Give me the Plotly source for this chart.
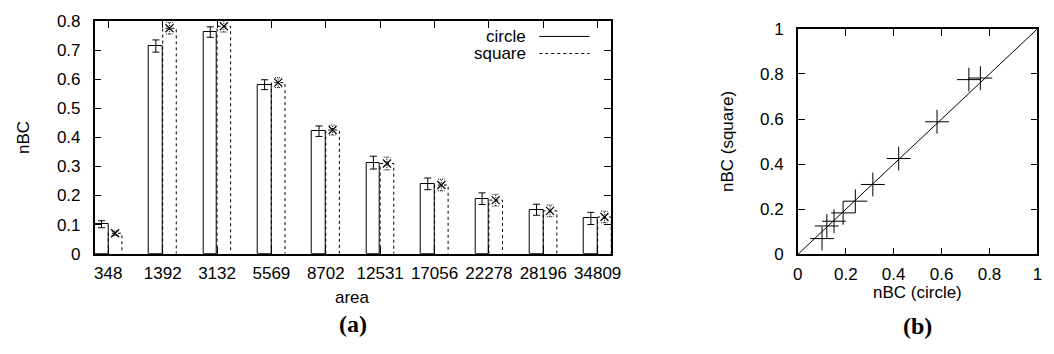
import plotly.graph_objects as go

# ---------------- data ----------------
areas = ["348", "1392", "3132", "5569", "8702", "12531", "17056", "22278", "28196", "34809"]
circle = [0.101, 0.714, 0.762, 0.581, 0.421, 0.313, 0.240, 0.189, 0.151, 0.121]
circle_err = [0.012, 0.021, 0.018, 0.017, 0.018, 0.022, 0.020, 0.020, 0.019, 0.021]
square = [0.070, 0.775, 0.782, 0.588, 0.425, 0.310, 0.236, 0.184, 0.147, 0.126]
square_err = [0.008, 0.020, 0.020, 0.017, 0.017, 0.022, 0.020, 0.020, 0.020, 0.020]
yticks_a = [0, 0.1, 0.2, 0.3, 0.4, 0.5, 0.6, 0.7, 0.8]
ticks_b = [0, 0.2, 0.4, 0.6, 0.8, 1]

W, H = 1054, 354
BW = 0.25          # bar width in category units
CAP = 0.06         # half cap width of dotted error bars (category units)
FONT = "Liberation Sans, Arial, sans-serif"
FS = 17

def px(x):
    return x / W

def py(y):
    return 1 - y / H

fig = go.Figure()

idx = list(range(len(areas)))

# circle bars (solid outline) with error bars
fig.add_trace(go.Bar(
    x=[i - BW / 2 for i in idx], y=circle, width=BW,
    marker=dict(color="white", line=dict(color="black", width=1)),
    error_y=dict(type="data", array=circle_err, color="black", thickness=1, width=3.5),
    xaxis="x", yaxis="y", showlegend=False,
))

# square bars (dashed outline)
sx, sy = [], []
for i, v in zip(idx, square):
    sx += [i, i, i + BW, i + BW, None]
    sy += [0, v, v, 0, None]
fig.add_trace(go.Scatter(
    x=sx, y=sy, mode="lines",
    line=dict(color="black", width=1, dash="3px,3px"),
    xaxis="x", yaxis="y", showlegend=False, hoverinfo="skip",
))

# square error bars (dotted)
ex, ey = [], []
for i, v, e in zip(idx, square, square_err):
    c = i + BW / 2
    ex += [c, c, None, c - CAP, c + CAP, None, c - CAP, c + CAP, None]
    ey += [v - e, v + e, None, v - e, v - e, None, v + e, v + e, None]
fig.add_trace(go.Scatter(
    x=ex, y=ey, mode="lines",
    line=dict(color="black", width=1, dash="1px,1px"),
    xaxis="x", yaxis="y", showlegend=False, hoverinfo="skip",
))

# square markers
fig.add_trace(go.Scatter(
    x=[i + BW / 2 for i in idx], y=square, mode="markers",
    marker=dict(symbol="x-thin", size=8, line=dict(color="black", width=1.2), color="black"),
    xaxis="x", yaxis="y", showlegend=False,
))

# ---------------- panel (b) ----------------
fig.add_trace(go.Scatter(
    x=[0, 1], y=[0, 1], mode="lines", line=dict(color="black", width=1),
    xaxis="x2", yaxis="y2", showlegend=False, hoverinfo="skip",
))
fig.add_trace(go.Scatter(
    x=circle, y=square, mode="markers",
    marker=dict(symbol="cross-thin", size=17, line=dict(color="black", width=1), color="black"),
    xaxis="x2", yaxis="y2", showlegend=False,
))

axis_common = dict(
    showline=True, linecolor="black", linewidth=1.5, mirror="ticks",
    ticks="inside", ticklen=7, tickwidth=1, tickcolor="black",
    showgrid=False, zeroline=False,
    tickfont=dict(family=FONT, size=FS, color="black"),
)

fig.update_layout(
    width=W, height=H,
    margin=dict(l=0, r=0, t=0, b=0),
    paper_bgcolor="white", plot_bgcolor="white",
    bargap=0,
    xaxis=dict(
        domain=[px(91), px(615)], range=[-0.25, 9.25],
        tickmode="array", tickvals=idx, ticktext=areas,
        ticklabelstandoff=3, anchor="y", **axis_common,
    ),
    yaxis=dict(
        domain=[py(258.5), py(12.7)], range=[0, 0.8],
        tickmode="array", tickvals=yticks_a,
        ticktext=["0" if t == 0 else f"{t:.1f}" for t in yticks_a],
        ticklabelstandoff=9, anchor="x", **axis_common,
    ),
    xaxis2=dict(
        domain=[px(804.3), px(1047.3)], range=[0, 1],
        tickmode="array", tickvals=ticks_b,
        ticktext=["0" if t == 0 else ("1" if t == 1 else f"{t:.1f}") for t in ticks_b],
        ticklabelstandoff=3, anchor="y2", **axis_common,
    ),
    yaxis2=dict(
        domain=[py(259.3), py(21)], range=[0, 1],
        tickmode="array", tickvals=ticks_b,
        ticktext=["0" if t == 0 else ("1" if t == 1 else f"{t:.1f}") for t in ticks_b],
        ticklabelstandoff=9, anchor="x2", **axis_common,
    ),
)

txt = dict(family=FONT, size=FS, color="black")
serif_b = dict(family="Liberation Serif, Times New Roman, serif", size=24, color="black")
ann = [
    dict(text="nBC", x=px(18), y=py(135.5), textangle=-90, font=txt),
    dict(text="area", x=px(353), y=py(305), font=txt),
    dict(text="<b>(a)</b>", x=px(353), y=py(333), font=serif_b),
    dict(text="nBC (square)", x=px(733), y=py(140), textangle=-90, font=txt),
    dict(text="nBC (circle)", x=px(926), y=py(300), font=txt),
    dict(text="<b>(b)</b>", x=px(926), y=py(335), font=serif_b),
    dict(text="circle", x=px(531), y=py(29), xanchor="right", font=txt),
    dict(text="square", x=px(531), y=py(47), xanchor="right", font=txt),
]
for a in ann:
    a.update(xref="paper", yref="paper", showarrow=False)
    a.setdefault("xanchor", "center")
    a.setdefault("yanchor", "middle")
fig.update_layout(annotations=ann)

fig.update_layout(shapes=[
    dict(type="line", xref="paper", yref="paper", x0=px(542), x1=px(593), y0=py(29), y1=py(29),
         line=dict(color="black", width=1)),
    dict(type="line", xref="paper", yref="paper", x0=px(542), x1=px(593), y0=py(47), y1=py(47),
         line=dict(color="black", width=1, dash="3px,3px")),
])

fig.write_html(
    "out.html",
    config={"displayModeBar": False},
    post_script="document.body.style.margin='0';document.body.style.overflow='hidden';",
)
